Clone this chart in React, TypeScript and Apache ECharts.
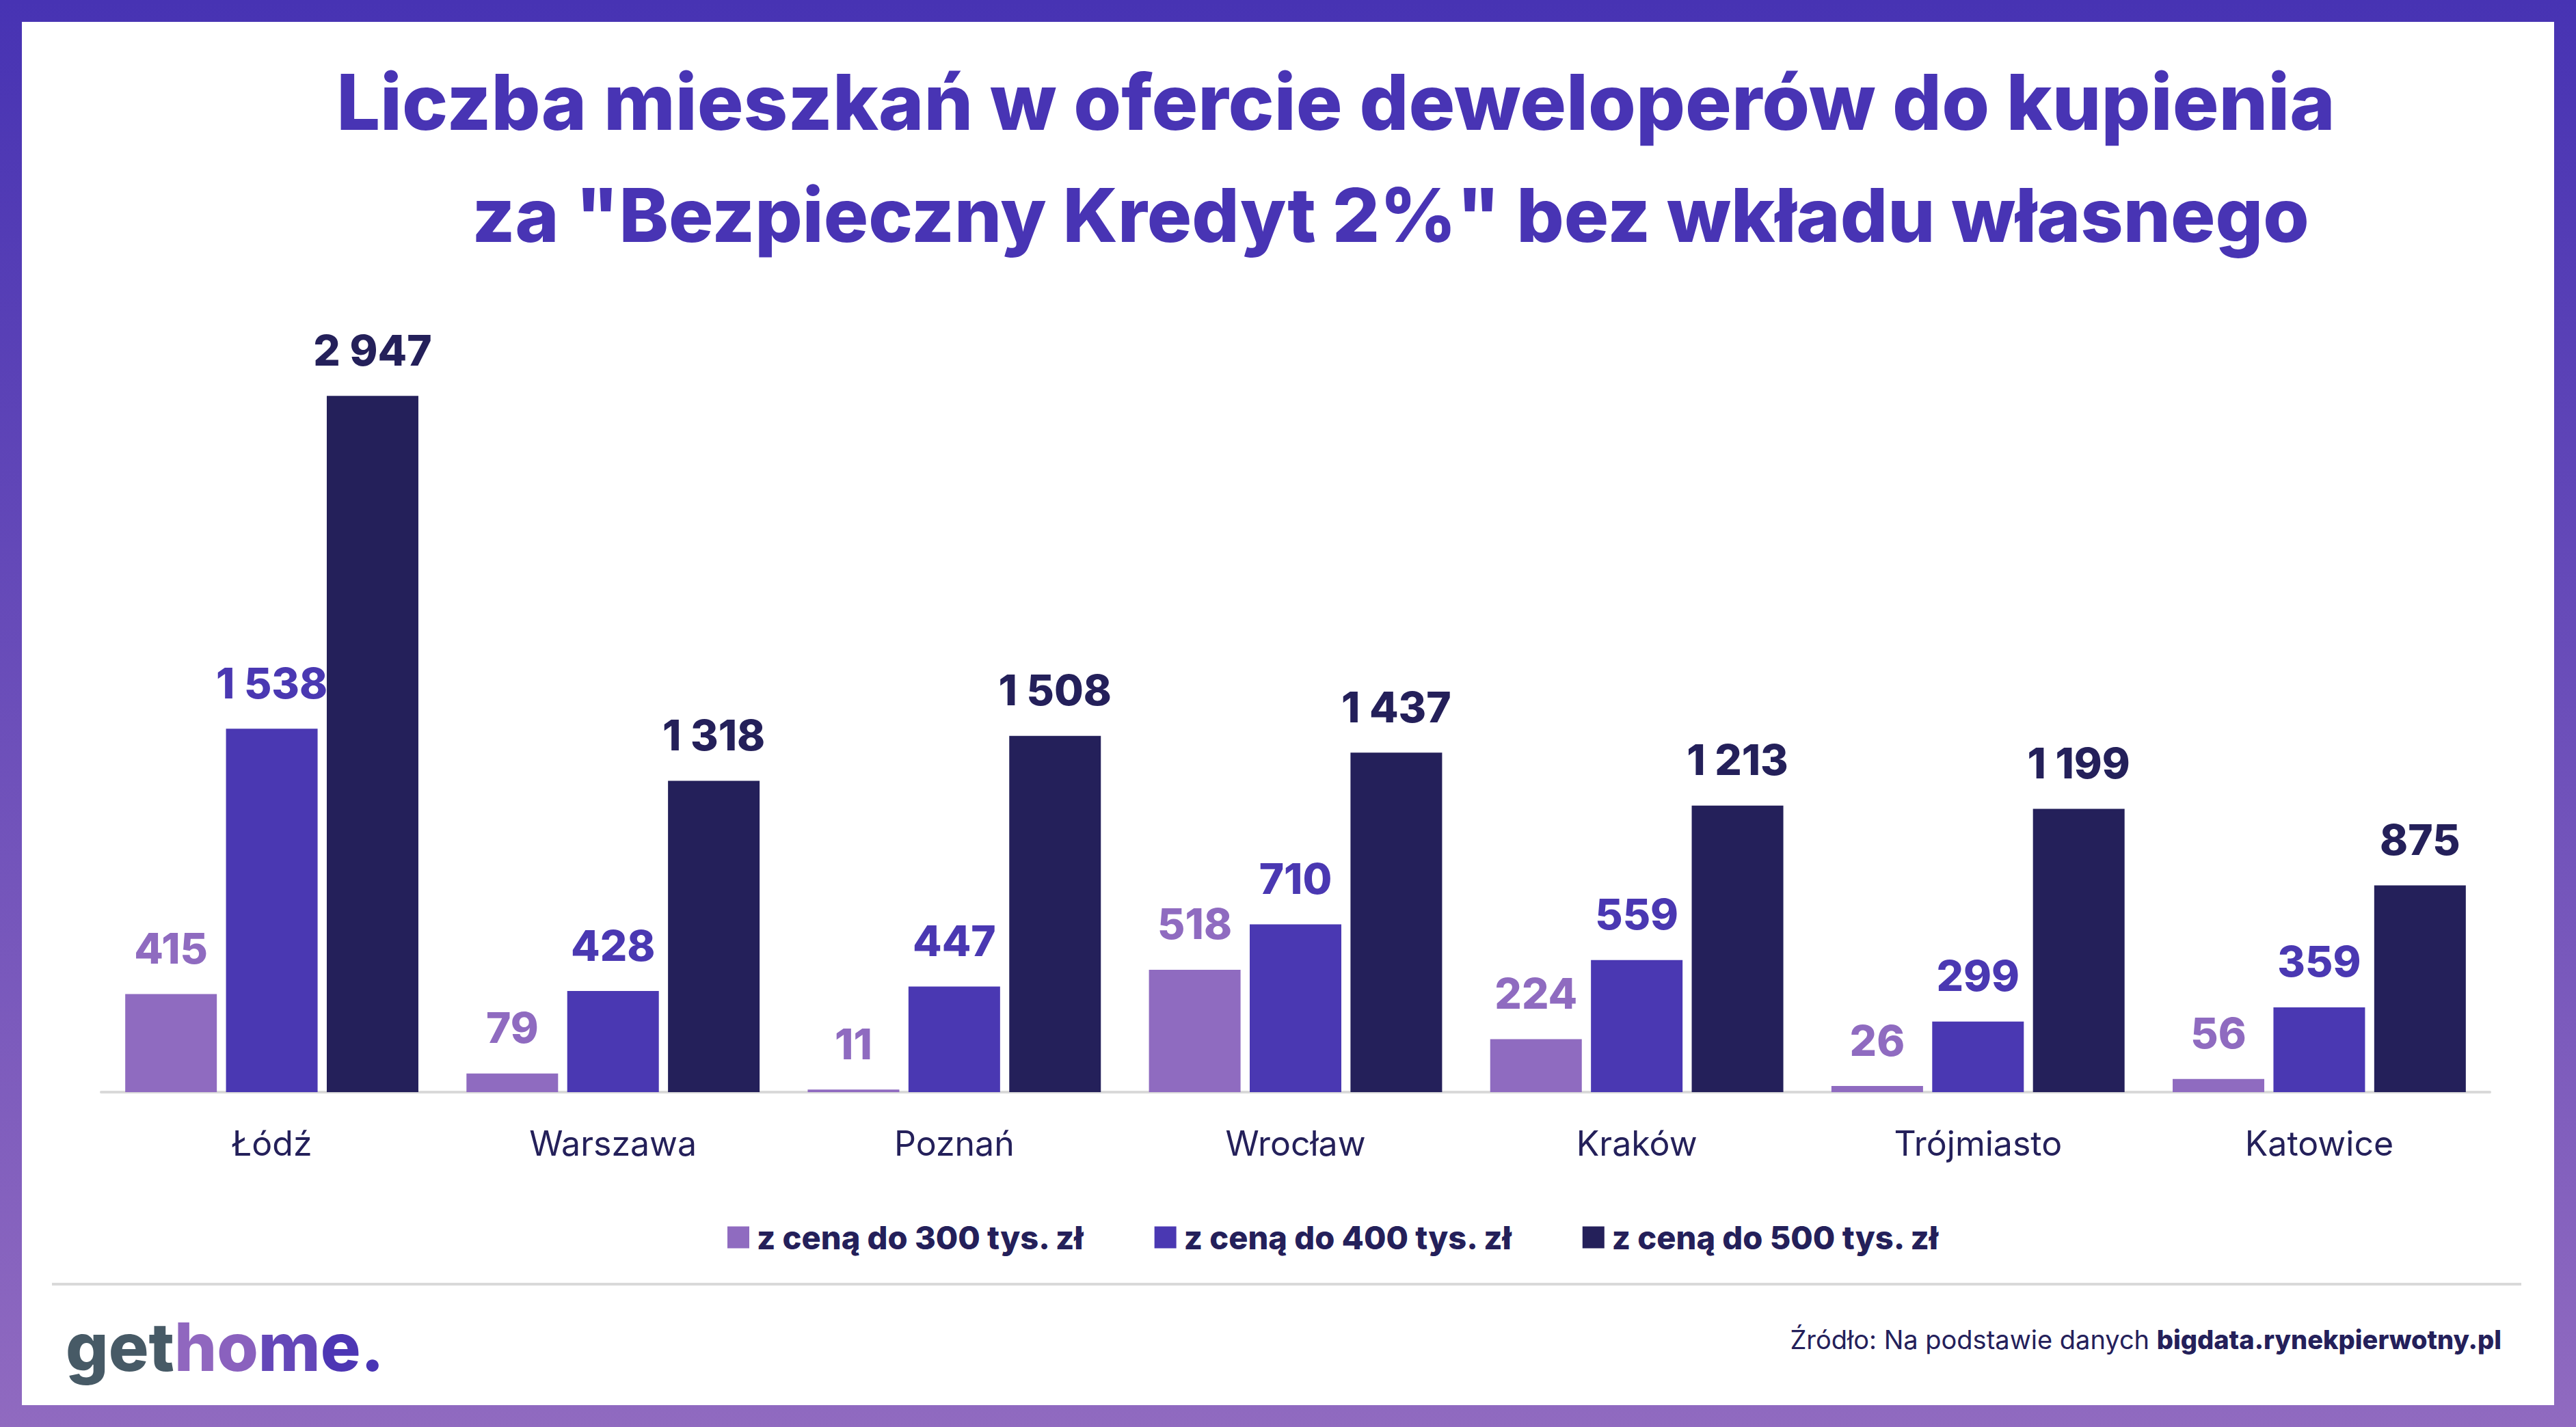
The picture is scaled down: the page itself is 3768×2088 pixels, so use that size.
import React, { useEffect, useRef } from "react";
import * as echarts from "echarts";

const categories = ["Łódź", "Warszawa", "Poznań", "Wrocław", "Kraków", "Trójmiasto", "Katowice"];
const seriesNames = ["z ceną do 300 tys. zł", "z ceną do 400 tys. zł", "z ceną do 500 tys. zł"];
const upTo300 = [415, 79, 11, 518, 224, 26, 56];
const upTo400 = [1538, 428, 447, 710, 559, 299, 359];
const upTo500 = [2947, 1318, 1508, 1437, 1213, 1199, 875];
const seriesColors = ["#8F6BC0", "#4A38B2", "#24205A"];
const titleLines = [
  "Liczba mieszkań w ofercie deweloperów do kupienia",
  "za \"Bezpieczny Kredyt 2%\" bez wkładu własnego",
];
const sourceRegular = "Źródło: Na podstawie danych ";
const sourceBold = "bigdata.rynekpierwotny.pl";

const fmt = (v: number) => String(v).replace(/\B(?=(\d{3})+(?!\d))/g, " ");

const W = 3768;
const H = 2088;
const FONT = "Inter, 'Noto Sans', sans-serif";

export default function App() {
  const ref = useRef<HTMLDivElement>(null);
  useEffect(() => {
    if (!ref.current) return;
    const chart = echarts.init(ref.current, null, { renderer: "svg", width: W, height: H });
    const values = [upTo300, upTo400, upTo500];
    const logoFs = 98;
    const srcFs = 38;
    chart.setOption({
      animation: false,
      backgroundColor: "transparent",
      grid: { left: 148, right: 126, top: 561, bottom: 490, containLabel: false },
      xAxis: {
        type: "category",
        data: categories,
        axisLine: { lineStyle: { color: "#D9D9D9", width: 4 } },
        axisTick: { show: false },
        axisLabel: { color: "#24205A", fontSize: 50, fontFamily: FONT, margin: 50 },
      },
      yAxis: { type: "value", min: 0, max: 3000, show: false, splitLine: { show: false } },
      legend: {
        top: 1782,
        left: 1059,
        itemWidth: 32,
        itemHeight: 32,
        itemGap: 102,
        icon: "rect",
        data: seriesNames,
        textStyle: { fontFamily: FONT, fontWeight: 800, fontSize: 47, color: "#24205A", padding: [0, 0, 0, 6] },
      },
      series: values.map((data, i) => ({
        type: "bar",
        name: seriesNames[i],
        data,
        barWidth: 134,
        barGap: "10%",
        itemStyle: { color: seriesColors[i] },
        label: {
          show: true,
          position: "top",
          distance: 36,
          formatter: (p: any) => fmt(p.value),
          color: seriesColors[i],
          fontFamily: FONT,
          fontWeight: 800,
          fontSize: 62,
        },
      })),
      graphic: [
        {
          type: "rect",
          z: -100,
          shape: { x: 0, y: 0, width: W, height: H },
          style: {
            fill: new echarts.graphic.LinearGradient(0, 0, 0, 1, [
              { offset: 0, color: "#4733B3" },
              { offset: 1, color: "#906AC0" },
            ]),
          },
        },
        {
          type: "rect",
          z: -99,
          shape: { x: 32, y: 32, width: W - 64, height: H - 64 },
          style: { fill: "#FFFFFF" },
        },
        {
          type: "text",
          x: 1954,
          y: 149,
          style: {
            text: titleLines[0],
            fill: "#4834B4",
            fontFamily: FONT,
            fontWeight: 800,
            fontSize: 113,
            align: "center",
            verticalAlign: "middle",
          },
        },
        {
          type: "text",
          x: 2034,
          y: 314,
          style: {
            text: titleLines[1],
            fill: "#4834B4",
            fontFamily: FONT,
            fontWeight: 800,
            fontSize: 109,
            align: "center",
            verticalAlign: "middle",
          },
        },
        {
          type: "line",
          shape: { x1: 76, y1: 1879, x2: 3688, y2: 1879 },
          style: { stroke: "#D9D9D9", lineWidth: 4 },
        },
        {
          type: "text",
          x: 96,
          y: 1970,
          style: {
            text: "{g|get}{h|h}{o|o}{m|m}{e|e}{d|.}",
            fontFamily: FONT,
            fontWeight: 800,
            fontSize: logoFs,
            verticalAlign: "middle",
            rich: {
              g: { fill: "#475A66", color: "#475A66", fontFamily: FONT, fontWeight: 800, fontSize: logoFs },
              h: { fill: "#9067BF", color: "#9067BF", fontFamily: FONT, fontWeight: 800, fontSize: logoFs },
              o: { fill: "#8A61BE", color: "#8A61BE", fontFamily: FONT, fontWeight: 800, fontSize: logoFs },
              m: { fill: "#6447B8", color: "#6447B8", fontFamily: FONT, fontWeight: 800, fontSize: logoFs },
              e: { fill: "#4D36B4", color: "#4D36B4", fontFamily: FONT, fontWeight: 800, fontSize: logoFs },
              d: { fill: "#4834B4", color: "#4834B4", fontFamily: FONT, fontWeight: 800, fontSize: logoFs },
            },
          },
        },
        {
          type: "text",
          x: 3659,
          y: 1960,
          style: {
            text: `{r|${sourceRegular}}{b|${sourceBold}}`,
            align: "right",
            verticalAlign: "middle",
            fontFamily: FONT,
            fontSize: srcFs,
            rich: {
              r: { fill: "#24205A", color: "#24205A", fontFamily: FONT, fontWeight: 400, fontSize: srcFs },
              b: { fill: "#24205A", color: "#24205A", fontFamily: FONT, fontWeight: 800, fontSize: srcFs },
            },
          },
        },
      ],
    });
    return () => chart.dispose();
  }, []);
  return (
    <div
      ref={ref}
      style={{ position: "absolute", left: 0, top: 0, width: W, height: H }}
    />
  );
}
